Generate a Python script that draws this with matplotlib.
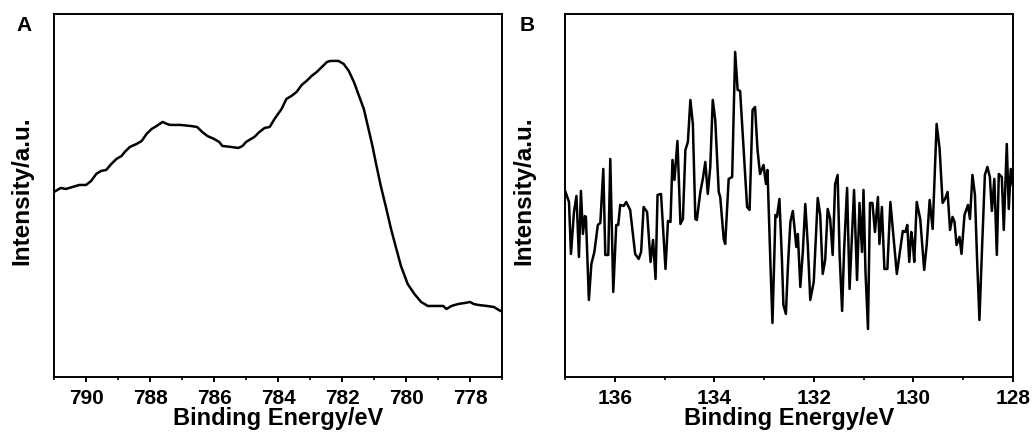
import matplotlib
matplotlib.use("Agg")
import matplotlib.pyplot as plt
from matplotlib.ticker import MultipleLocator

plt.rcParams['font.family'] = ['Liberation Sans', 'DejaVu Sans']
plt.rcParams['font.weight'] = 'bold'

# ---- panel A : Co 2p region (arbitrary units) ----
energy_a = [791.0, 790.79, 790.63, 790.42, 790.21, 790.0, 789.84, 789.68, 789.53, 789.37,
            789.21, 789.05, 788.89, 788.79, 788.63, 788.42, 788.26, 788.11, 787.95, 787.79,
            787.61, 787.47, 787.37, 787.05, 786.74, 786.53, 786.37, 786.21, 786.0, 785.84,
            785.74, 785.47, 785.24, 785.11, 785.0, 784.74, 784.58, 784.42, 784.26, 784.11,
            783.89, 783.74, 783.58, 783.42, 783.26, 783.11, 782.95, 782.79, 782.63, 782.47,
            782.37, 782.26, 782.11, 781.95, 781.79, 781.63, 781.47, 781.32, 781.21, 781.05,
            780.95, 780.79, 780.63, 780.47, 780.32, 780.16, 779.95, 779.74, 779.53, 779.32,
            779.05, 778.84, 778.74, 778.58, 778.37, 778.16, 778.0, 777.89, 777.74, 777.47,
            777.26, 777.05, 776.89]
intensity_a = [185, 189, 188, 190, 192, 192, 196, 203, 206, 207,
               213, 218, 221, 225, 230, 233, 236, 243, 248, 251,
               255, 253, 252, 252, 251, 250, 245, 241, 238, 235,
               231, 230, 229, 231, 235, 240, 245, 249, 250, 258,
               268, 278, 281, 285, 292, 296, 301, 305, 310, 315,
               316, 316, 316, 313, 306, 295, 281, 268, 253, 231,
               215, 191, 170, 148, 130, 111, 93, 83, 75, 71,
               71, 71, 68, 71, 73, 74, 75, 73, 72, 71,
               70, 66, 68]

# ---- panel B : P 2p region ----
energy_b = [136.99, 136.92, 136.88, 136.82, 136.77, 136.72, 136.68, 136.64, 136.60, 136.58,
            136.52, 136.47, 136.41, 136.34, 136.29, 136.23, 136.19, 136.13, 136.09, 136.03,
            135.97, 135.93, 135.89, 135.82, 135.77, 135.69, 135.59, 135.52, 135.47, 135.42,
            135.35, 135.28, 135.23, 135.18, 135.14, 135.07, 134.98, 134.93, 134.88, 134.84,
            134.80, 134.74, 134.68, 134.63, 134.58, 134.53, 134.48, 134.43, 134.38, 134.35,
            134.28, 134.23, 134.18, 134.13, 134.08, 134.03, 133.98, 133.91, 133.88, 133.81,
            133.78, 133.71, 133.64, 133.58, 133.53, 133.48, 133.41, 133.34, 133.29, 133.23,
            133.18, 133.13, 133.08, 133.01, 132.96, 132.93, 132.87, 132.83, 132.77, 132.74,
            132.69, 132.64, 132.61, 132.56, 132.52, 132.47, 132.42, 132.35, 132.32, 132.27,
            132.22, 132.17, 132.12, 132.07, 132.00, 131.92, 131.87, 131.82, 131.77, 131.72,
            131.67, 131.62, 131.57, 131.52, 131.48, 131.43, 131.39, 131.33, 131.28, 131.23,
            131.19, 131.13, 131.08, 131.03, 131.00, 130.96, 130.91, 130.87, 130.82, 130.77,
            130.71, 130.68, 130.63, 130.58, 130.52, 130.46, 130.33, 130.26, 130.21, 130.16,
            130.12, 130.08, 130.04, 130.01, 129.98, 129.93, 129.86, 129.78, 129.73, 129.67,
            129.61, 129.53, 129.47, 129.41, 129.36, 129.31, 129.26, 129.21, 129.17, 129.13,
            129.07, 129.03, 128.97, 128.90, 128.86, 128.81, 128.76, 128.72, 128.67, 128.62,
            128.56, 128.51, 128.46, 128.42, 128.37, 128.32, 128.28, 128.22, 128.18, 128.12,
            128.08, 128.04, 128.00]
intensity_b = [185, 175, 123, 165, 181, 120, 186, 143, 161, 160,
               77, 113, 125, 152, 154, 208, 122, 122, 218, 85,
               152, 152, 172, 171, 175, 167, 123, 118, 125, 170,
               165, 115, 137, 98, 182, 183, 108, 156, 155, 217,
               197, 236, 153, 158, 227, 235, 277, 253, 158, 157,
               185, 198, 215, 183, 210, 277, 257, 185, 180, 138,
               133, 198, 200, 325, 287, 286, 228, 170, 167, 267,
               270, 227, 203, 212, 193, 207, 112, 54, 162, 160,
               178, 118, 72, 63, 110, 155, 166, 130, 143, 90,
               125, 173, 132, 77, 95, 179, 162, 103, 117, 168,
               158, 122, 193, 202, 122, 66, 127, 189, 88, 142,
               187, 97, 174, 125, 187, 105, 48, 174, 174, 145,
               180, 133, 170, 108, 108, 175, 103, 128, 146, 145,
               152, 115, 145, 135, 115, 175, 158, 107, 132, 177,
               148, 253, 228, 174, 178, 185, 147, 160, 155, 132,
               140, 123, 162, 172, 158, 202, 182, 122, 57, 125,
               202, 210, 200, 166, 198, 122, 203, 200, 147, 233,
               168, 208, 192]

# tag, x, y, xlim, ylabel x (axes coords), tag x-offset (px)
panels = [
    ('A', energy_a, intensity_a, (791, 777), -0.047, 30),
    ('B', energy_b, intensity_b, (137, 128), -0.067, 38),
]

fig = plt.figure(figsize=(10.35, 4.39), dpi=100)
axes = [fig.add_axes([0.0522, 0.139, 0.4329, 0.827]),
        fig.add_axes([0.5459, 0.139, 0.4326, 0.827])]

for ax, (tag, x, y, xlim, ylx, toff) in zip(axes, panels):
    ax.plot(x, y, color='black', lw=1.8)
    ax.set_xlim(*xlim)
    ax.set_ylim(0, 363)
    ax.xaxis.set_major_locator(MultipleLocator(2))
    ax.xaxis.set_minor_locator(MultipleLocator(1))
    ax.set_yticks([])
    ax.tick_params(axis='x', which='major', direction='out', length=3.8, width=1.4,
                   labelsize=15, pad=4.2)
    ax.tick_params(axis='x', which='minor', direction='out', length=2.3, width=1.2)
    for lbl in ax.get_xticklabels():
        lbl.set_fontweight('bold')
    for sp in ax.spines.values():
        sp.set_linewidth(1.4)
    ax.set_xlabel('Binding Energy/eV', fontsize=17, fontweight='bold', labelpad=-0.5)
    ax.set_ylabel('Intensity/a.u.', fontsize=17.5, fontweight='bold')
    ax.yaxis.set_label_coords(ylx, 0.515)
    pos = ax.get_position()
    fig.text(pos.x0 * 1035 - toff, 413, tag, fontsize=15, fontweight='bold',
             ha='center', va='center', transform=None)

fig.savefig('out.png', dpi=100)
